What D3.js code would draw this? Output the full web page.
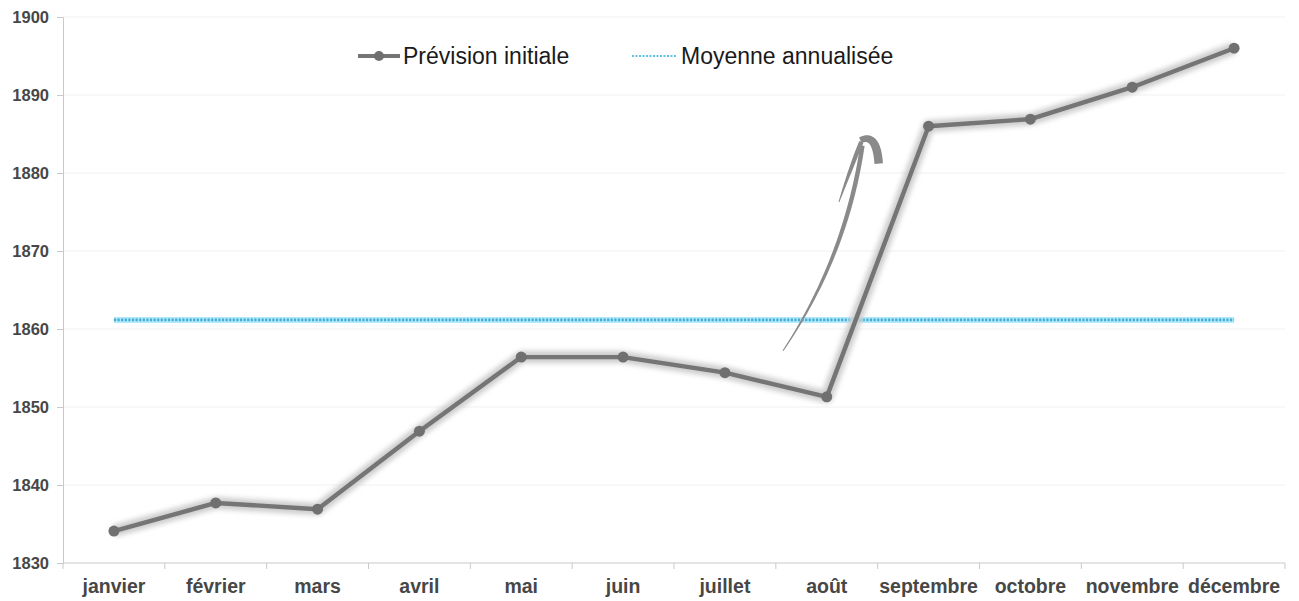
<!DOCTYPE html>
<html lang="fr">
<head>
<meta charset="utf-8">
<script src="https://cdn.jsdelivr.net/npm/d3@7"></script>
<style>
  html, body { margin: 0; padding: 0; background: #ffffff; }
  svg { display: block; font-family: "Liberation Sans", Arial, sans-serif; }
</style>
</head>
<body>
<svg id="chart" width="1299" height="601"></svg>
<script>
// Mois de l'année (axe des catégories)
const months = ["janvier", "février", "mars", "avril", "mai", "juin",
                "juillet", "août", "septembre", "octobre", "novembre", "décembre"];
// Prévision initiale, par mois
const forecast = [1834.1, 1837.7, 1836.9, 1846.9, 1856.4, 1856.4,
                  1854.4, 1851.3, 1886.0, 1886.9, 1891.0, 1896.0];
// Graduations de l'axe vertical
const yTicks = [1830, 1840, 1850, 1860, 1870, 1880, 1890, 1900];
const seriesNames = ["Prévision initiale", "Moyenne annualisée"];

// Moyenne annualisée de la prévision
const average = d3.mean(forecast);

const W = 1299, H = 601;
const margin = { top: 17, right: 14, bottom: 38, left: 63 };
const svg = d3.select("#chart");

const x = d3.scaleBand().domain(months).range([margin.left, W - margin.right]).padding(0);
const y = d3.scaleLinear().domain([1830, 1900]).range([H - margin.bottom, margin.top]);
const cx = m => x(m) + x.bandwidth() / 2;

// Halo flou sous les séries
const defs = svg.append("defs");
defs.append("filter").attr("id", "halo").attr("x", "-5%").attr("y", "-30%")
  .attr("width", "110%").attr("height", "160%")
  .append("feGaussianBlur").attr("stdDeviation", 2.5);
defs.append("filter").attr("id", "soft")
  .append("feGaussianBlur").attr("stdDeviation", 0.6);

// Quadrillage horizontal
svg.append("g").selectAll("line").data(yTicks.slice(1)).join("line")
  .attr("x1", margin.left).attr("x2", W - margin.right)
  .attr("y1", d => y(d)).attr("y2", d => y(d))
  .attr("stroke", "#f1f1f1").attr("stroke-width", 1);

// Axe vertical
const yAxis = svg.append("g").attr("transform", `translate(${margin.left},0)`)
  .call(d3.axisLeft(y).tickValues(yTicks).tickFormat(d3.format("d")).tickSize(6).tickPadding(8));
yAxis.select(".domain").attr("stroke", "#c9c9c9");
yAxis.selectAll(".tick line").attr("stroke", "#c9c9c9");
yAxis.selectAll(".tick text")
  .attr("font-size", 16.5).attr("font-weight", "bold").attr("fill", "#474747")
  .attr("font-family", "'Liberation Sans', Arial, sans-serif");

// Axe horizontal : graduations aux limites des mois
const xg = svg.append("g");
xg.append("line")
  .attr("x1", margin.left).attr("x2", W - margin.right)
  .attr("y1", y(1830)).attr("y2", y(1830))
  .attr("stroke", "#c9c9c9");
const bounds = months.map(m => x(m)).concat([x(months[months.length - 1]) + x.bandwidth()]);
xg.selectAll("line.tk").data(bounds).join("line").attr("class", "tk")
  .attr("x1", d => d).attr("x2", d => d)
  .attr("y1", y(1830)).attr("y2", y(1830) + 6)
  .attr("stroke", "#c9c9c9");
xg.selectAll("text").data(months).join("text")
  .attr("x", d => cx(d)).attr("y", y(1830) + 30)
  .attr("text-anchor", "middle")
  .attr("font-size", 19.5).attr("font-weight", "bold").attr("fill", "#474747")
  .text(d => d);

// Ligne de moyenne (pointillés cyan avec halo)
const avgLine = svg.append("g");
const avgX1 = cx(months[0]), avgX2 = cx(months[months.length - 1]);
avgLine.append("line")
  .attr("x1", avgX1).attr("x2", avgX2).attr("y1", y(average)).attr("y2", y(average))
  .attr("stroke", "#9fe0f6").attr("stroke-width", 10).attr("filter", "url(#halo)");
avgLine.append("line")
  .attr("x1", avgX1).attr("x2", avgX2).attr("y1", y(average)).attr("y2", y(average))
  .attr("stroke", "#b2eafb").attr("stroke-width", 6);
avgLine.append("line")
  .attr("x1", avgX1).attr("x2", avgX2).attr("y1", y(average)).attr("y2", y(average))
  .attr("stroke", "#43acd4").attr("stroke-width", 2.6)
  .attr("stroke-dasharray", "2.2,1.4");

// Flèche dessinée à main levée entre août et septembre
function bandPt(m, dx, v) { return [cx(m) + dx * x.bandwidth(), y(v)]; }
function taper(p0, c, p2, w0, w1, n = 40) {
  const left = [], right = [];
  for (let i = 0; i <= n; i++) {
    const t = i / n, u = 1 - t;
    const px = u * u * p0[0] + 2 * u * t * c[0] + t * t * p2[0];
    const py = u * u * p0[1] + 2 * u * t * c[1] + t * t * p2[1];
    const tx = 2 * u * (c[0] - p0[0]) + 2 * t * (p2[0] - c[0]);
    const ty = 2 * u * (c[1] - p0[1]) + 2 * t * (p2[1] - c[1]);
    const len = Math.hypot(tx, ty) || 1;
    const nx = -ty / len, ny = tx / len;
    const w = (w0 + (w1 - w0) * Math.sin(Math.PI * Math.min(1, t * 1.15) / 2)) / 2;
    left.push([px + nx * w, py + ny * w]);
    right.push([px - nx * w, py - ny * w]);
  }
  return "M" + left.map(p => p.join(",")).join("L") + "L" + right.reverse().map(p => p.join(",")).join("L") + "Z";
}
const arrow = svg.append("g").attr("fill", "#8a8a8a").attr("filter", "url(#soft)");
// tige
arrow.append("path").attr("d", taper(
  bandPt("août", -0.43, 1857.2), bandPt("août", 0.19, 1869.3), bandPt("août", 0.35, 1883.5), 1.0, 4.5));
// branche gauche de la pointe
arrow.append("path").attr("d", taper(
  bandPt("août", 0.12, 1876.3), bandPt("août", 0.24, 1880.8), bandPt("août", 0.34, 1884.0), 1.0, 4.5));
// branche droite de la pointe (épaisse)
arrow.append("path").attr("d", taper(
  bandPt("août", 0.33, 1884.2), bandPt("août", 0.49, 1885.2), bandPt("août", 0.51, 1881.2), 6, 8.5));

// Série « Prévision initiale »
const line = d3.line().x((d, i) => cx(months[i])).y(d => y(d));
const fg = svg.append("g");
fg.append("path").datum(forecast).attr("d", line)
  .attr("fill", "none").attr("stroke", "#cdcdcd").attr("stroke-width", 12)
  .attr("stroke-linejoin", "round").attr("filter", "url(#halo)");
fg.append("path").datum(forecast).attr("d", line)
  .attr("fill", "none").attr("stroke", "#747474").attr("stroke-width", 4.4)
  .attr("stroke-linejoin", "round").attr("filter", "url(#soft)");
fg.selectAll("circle").data(forecast).join("circle")
  .attr("cx", (d, i) => cx(months[i])).attr("cy", d => y(d)).attr("r", 5.5)
  .attr("fill", "#6f6f6f").attr("filter", "url(#soft)");

// Légende
const lg = svg.append("g");
const ly = 56;
lg.append("line").attr("x1", 358).attr("x2", 400).attr("y1", ly).attr("y2", ly)
  .attr("stroke", "#757575").attr("stroke-width", 4);
lg.append("circle").attr("cx", 379).attr("cy", ly).attr("r", 5).attr("fill", "#6f6f6f");
lg.append("text").attr("x", 403).attr("y", ly + 8).attr("font-size", 23).attr("fill", "#1a1a1a")
  .text(seriesNames[0]);
lg.append("line").attr("x1", 632).attr("x2", 677).attr("y1", ly).attr("y2", ly)
  .attr("stroke", "#5cc3e2").attr("stroke-width", 2).attr("stroke-dasharray", "2,1.5");
lg.append("text").attr("x", 681).attr("y", ly + 8).attr("font-size", 23).attr("fill", "#1a1a1a")
  .text(seriesNames[1]);
</script>
</body>
</html>
